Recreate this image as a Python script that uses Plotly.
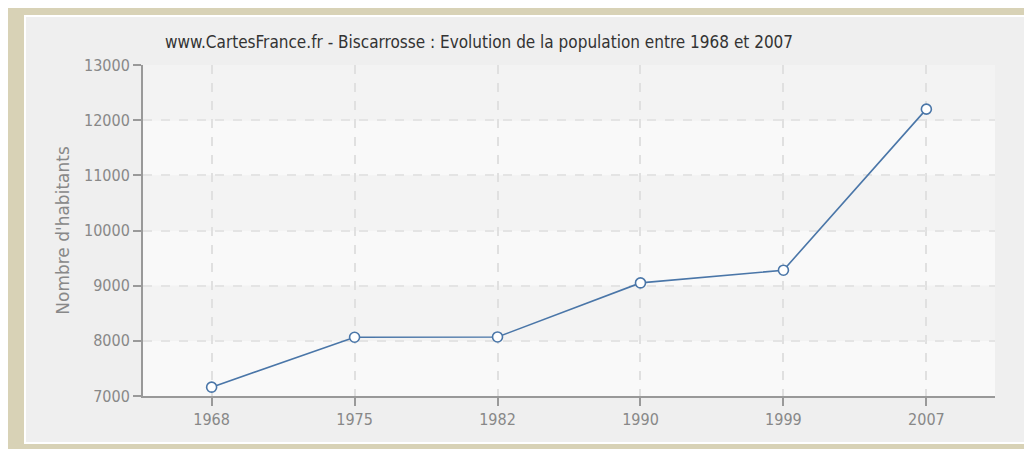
import plotly.graph_objects as go

years = ["1968", "1975", "1982", "1990", "1999", "2007"]
population = [7160, 8065, 8070, 9050, 9280, 12200]
y_ticks = [7000, 8000, 9000, 10000, 11000, 12000, 13000]

title_text = "www.CartesFrance.fr - Biscarrosse : Evolution de la population entre 1968 et 2007"

# page has an 8px body margin; figure drawn at 1024x441
OFF = 8
W, H = 1024, 441
L, R, T, B = 143 - OFF, 37, 65 - OFF, 53
PW, PH = W - L - R, H - T - B


def px_x(x):
    return (x - OFF - L) / PW


def px_y(y):
    return (H - B - (y - OFF)) / PH


fig = go.Figure()
fig.add_trace(go.Scatter(
    x=years, y=population, mode="lines+markers",
    line=dict(color="#4a76a8", width=1.6),
    marker=dict(symbol="circle", size=10, color="white",
                line=dict(color="#4a76a8", width=1.6)),
    showlegend=False, hoverinfo="x+y",
))

shapes = []
# outer panel
shapes.append(dict(type="rect", xref="paper", yref="paper",
                   x0=px_x(25), x1=px_x(1040),
                   y0=px_y(443), y1=px_y(16),
                   fillcolor="#efefef", line=dict(color="#ffffff", width=2),
                   layer="below"))
# plot background bands
for i in range(len(y_ticks) - 1):
    shapes.append(dict(type="rect", xref="paper", yref="y",
                       x0=0, x1=1, y0=y_ticks[i], y1=y_ticks[i + 1],
                       fillcolor="#f3f3f3" if i % 2 else "#f9f9f9",
                       line=dict(width=0), layer="below"))

fig.update_layout(
    width=W, height=H,
    margin=dict(l=L, r=R, t=T, b=B),
    paper_bgcolor="#d8d2b6",
    plot_bgcolor="rgba(0,0,0,0)",
    shapes=shapes,
    font=dict(family="DejaVu Sans Condensed, Liberation Sans, sans-serif", color="#888888", size=16),
    annotations=[dict(
        text=title_text, xref="paper", yref="paper",
        x=px_x(163), y=px_y(42),
        xanchor="left", yanchor="middle", showarrow=False,
        font=dict(size=17, color="#333333",
                  family="DejaVu Sans Condensed, Liberation Sans Narrow, sans-serif"),
    )],
)

fig.update_xaxes(
    type="category", range=[-0.48, 5.48],
    showline=True, linecolor="#999999", linewidth=2,
    ticks="outside", ticklen=8, tickcolor="#999999", tickwidth=2,
    showgrid=True, gridcolor="#e0e0e0", griddash="dash", gridwidth=2,
    tickfont=dict(size=16, color="#888888"),
    zeroline=False,
)
fig.update_yaxes(
    range=[7000, 13000], tickvals=y_ticks, tickformat="d",
    showline=True, linecolor="#999999", linewidth=2,
    ticks="outside", ticklen=8, tickcolor="#999999", tickwidth=2,
    showgrid=True, gridcolor="#e4e4e4", griddash="dash", gridwidth=2,
    tickfont=dict(size=16, color="#888888"),
    title=dict(text="Nombre d'habitants",
               font=dict(size=17, color="#888888", family="DejaVu Sans, sans-serif"),
               standoff=10),
    zeroline=False,
)

fig.write_html("out.html")
